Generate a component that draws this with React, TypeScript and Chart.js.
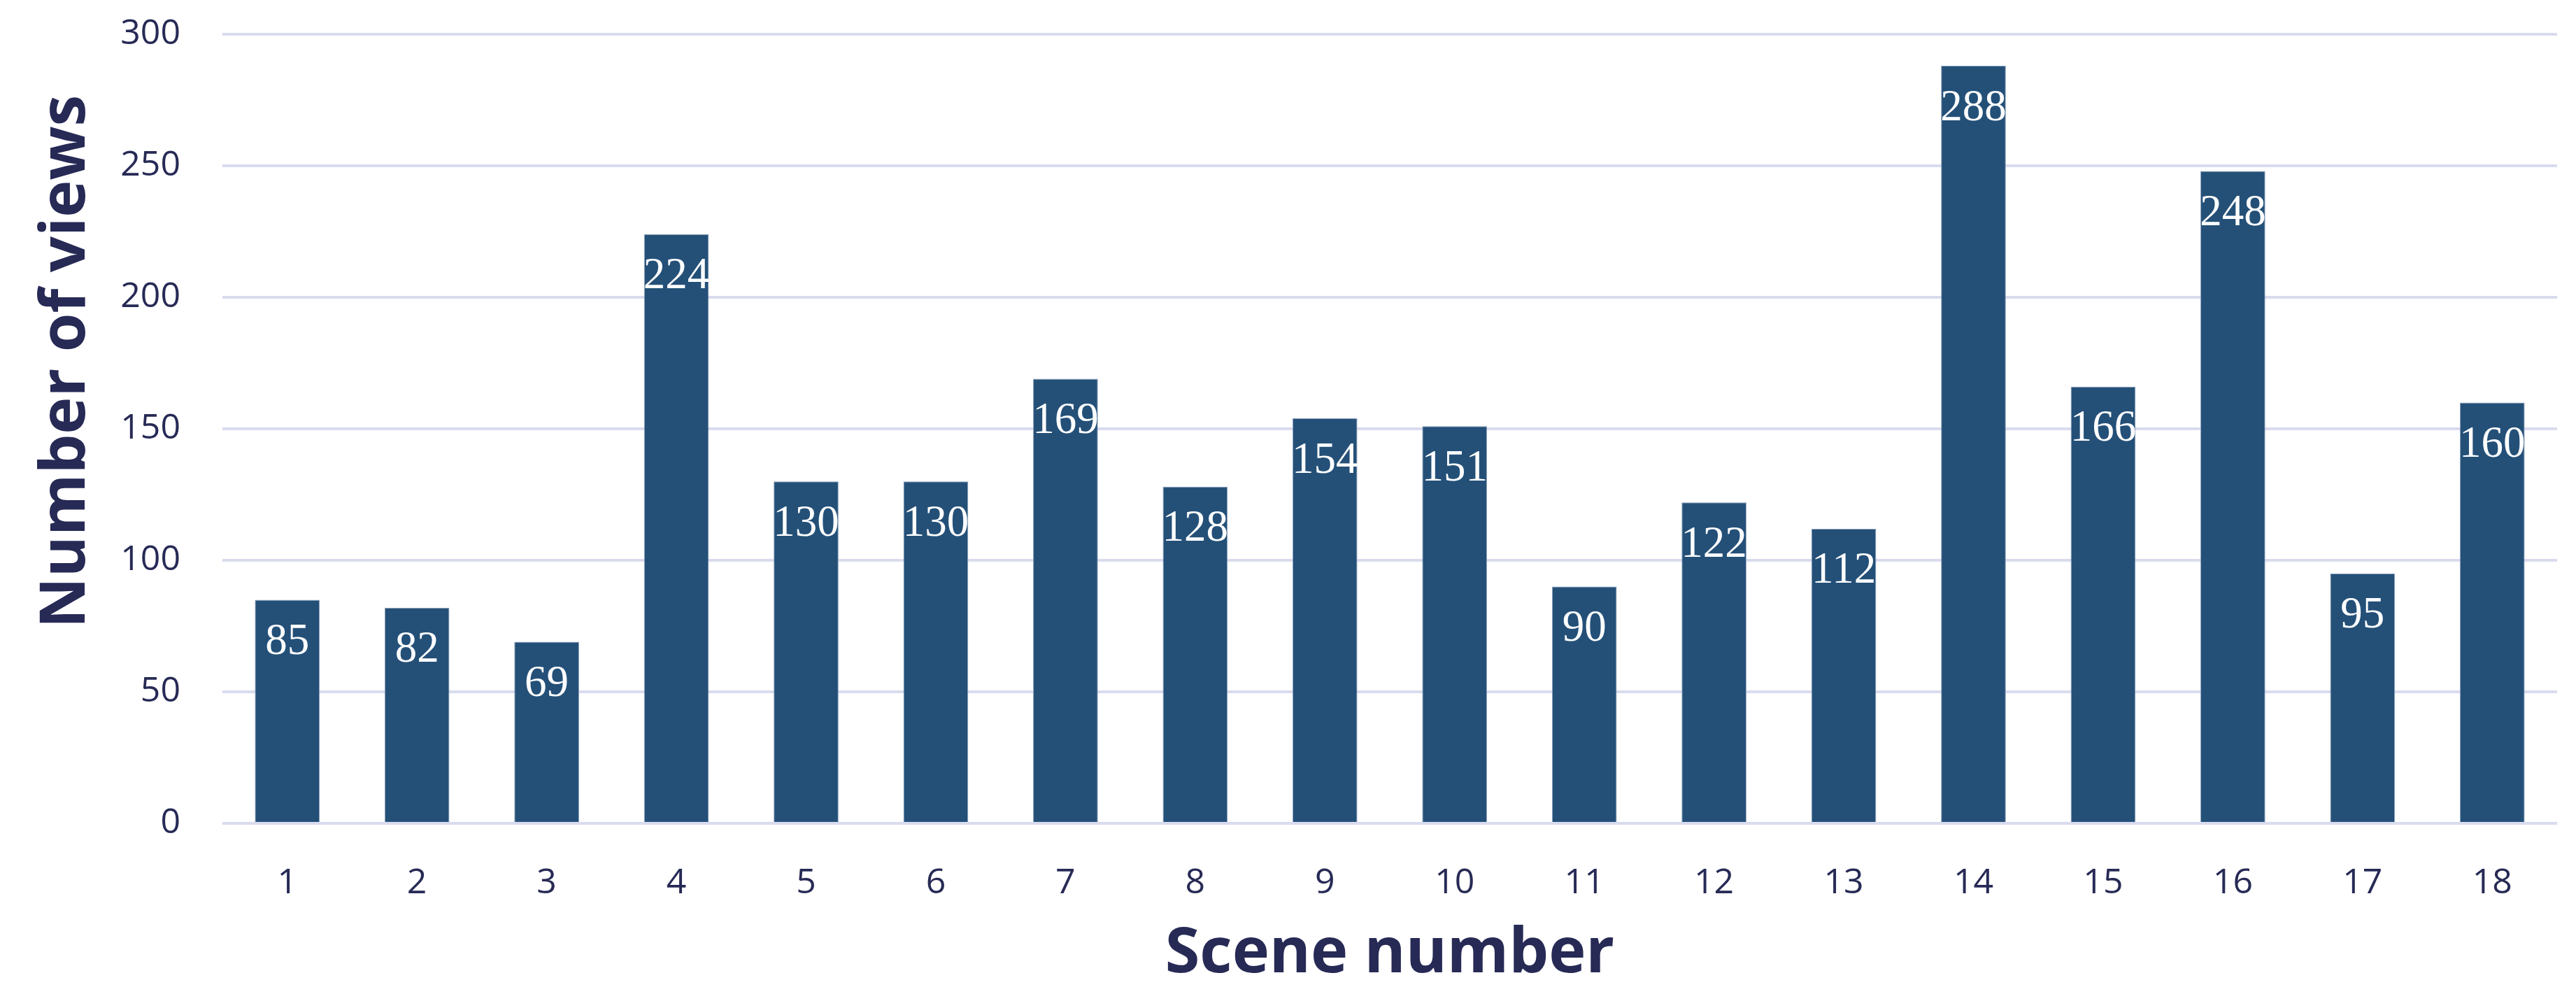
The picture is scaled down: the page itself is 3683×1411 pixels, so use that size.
import React, { useEffect, useRef } from 'react';
import { Chart, registerables } from 'chart.js';

Chart.register(...registerables);

const scenes = ['1', '2', '3', '4', '5', '6', '7', '8', '9', '10', '11', '12', '13', '14', '15', '16', '17', '18'];
const views = [85, 82, 69, 224, 130, 130, 169, 128, 154, 151, 90, 122, 112, 288, 166, 248, 95, 160];
const yMin = 0;
const yMax = 300;
const yStep = 50;
const xTitle = 'Scene number';
const yTitle = 'Number of views';

const NAVY = '#272a55';
const TITLE_FONT = 'bold 90px "Open Sans"';

export default function App() {
  const ref = useRef<HTMLCanvasElement>(null);

  useEffect(() => {
    document.body.style.margin = '0';
    document.body.style.overflow = 'hidden';
    const canvas = ref.current;
    if (!canvas) return;

    const labelPlugin = {
      id: 'barLabels',
      afterDatasetsDraw(chart: any) {
        const ctx = chart.ctx;
        const meta = chart.getDatasetMeta(0);
        ctx.save();
        ctx.font = '63px "Liberation Serif"';
        ctx.fillStyle = '#ffffff';
        ctx.textAlign = 'center';
        ctx.textBaseline = 'middle';
        meta.data.forEach((el: any, i: number) => {
          ctx.fillText(String(views[i]), el.x, el.y + 61);
        });
        ctx.restore();
      },
    };

    const titlePlugin = {
      id: 'axisTitles',
      afterDraw(chart: any) {
        const ctx = chart.ctx;
        const area = chart.chartArea;
        ctx.save();
        ctx.font = TITLE_FONT;
        ctx.fillStyle = NAVY;
        ctx.textAlign = 'center';
        ctx.textBaseline = 'alphabetic';
        ctx.fillText(xTitle, (area.left + area.right) / 2, 1390);
        ctx.translate(121, 517);
        ctx.rotate(-Math.PI / 2);
        ctx.fillText(yTitle, 0, 0);
        ctx.restore();
      },
    };

    const chart = new Chart(canvas, {
      type: 'bar',
      data: {
        labels: scenes,
        datasets: [
          {
            data: views,
            backgroundColor: '#245078',
            borderColor: '#8fa3be',
            borderWidth: 1,
            barPercentage: 0.5,
            categoryPercentage: 1,
          },
        ],
      },
      options: {
        animation: false,
        responsive: false,
        maintainAspectRatio: false,
        layout: { padding: { top: 49, right: 27, left: 0, bottom: 0 } },
        plugins: {
          legend: { display: false },
          tooltip: { enabled: false },
        },
        scales: {
          x: {
            grid: { display: false },
            border: { display: false },
            ticks: {
              color: NAVY,
              font: { family: '"Open Sans"', size: 50 },
              padding: 48,
              maxRotation: 0,
            },
            afterFit: (s: any) => {
              s.height = 234;
            },
          },
          y: {
            min: yMin,
            max: yMax,
            ticks: {
              stepSize: yStep,
              color: NAVY,
              font: { family: '"Open Sans"', size: 50 },
              padding: 60,
            },
            grid: { color: '#d9dbee', lineWidth: 4, drawTicks: false },
            border: { display: false },
            afterFit: (s: any) => {
              s.width = 318;
              s.paddingTop = 0;
              s.paddingBottom = 0;
            },
          },
        },
      },
      plugins: [labelPlugin, titlePlugin],
    });

    return () => chart.destroy();
  }, []);

  return <canvas ref={ref} width={3683} height={1411} style={{ display: 'block' }} />;
}
